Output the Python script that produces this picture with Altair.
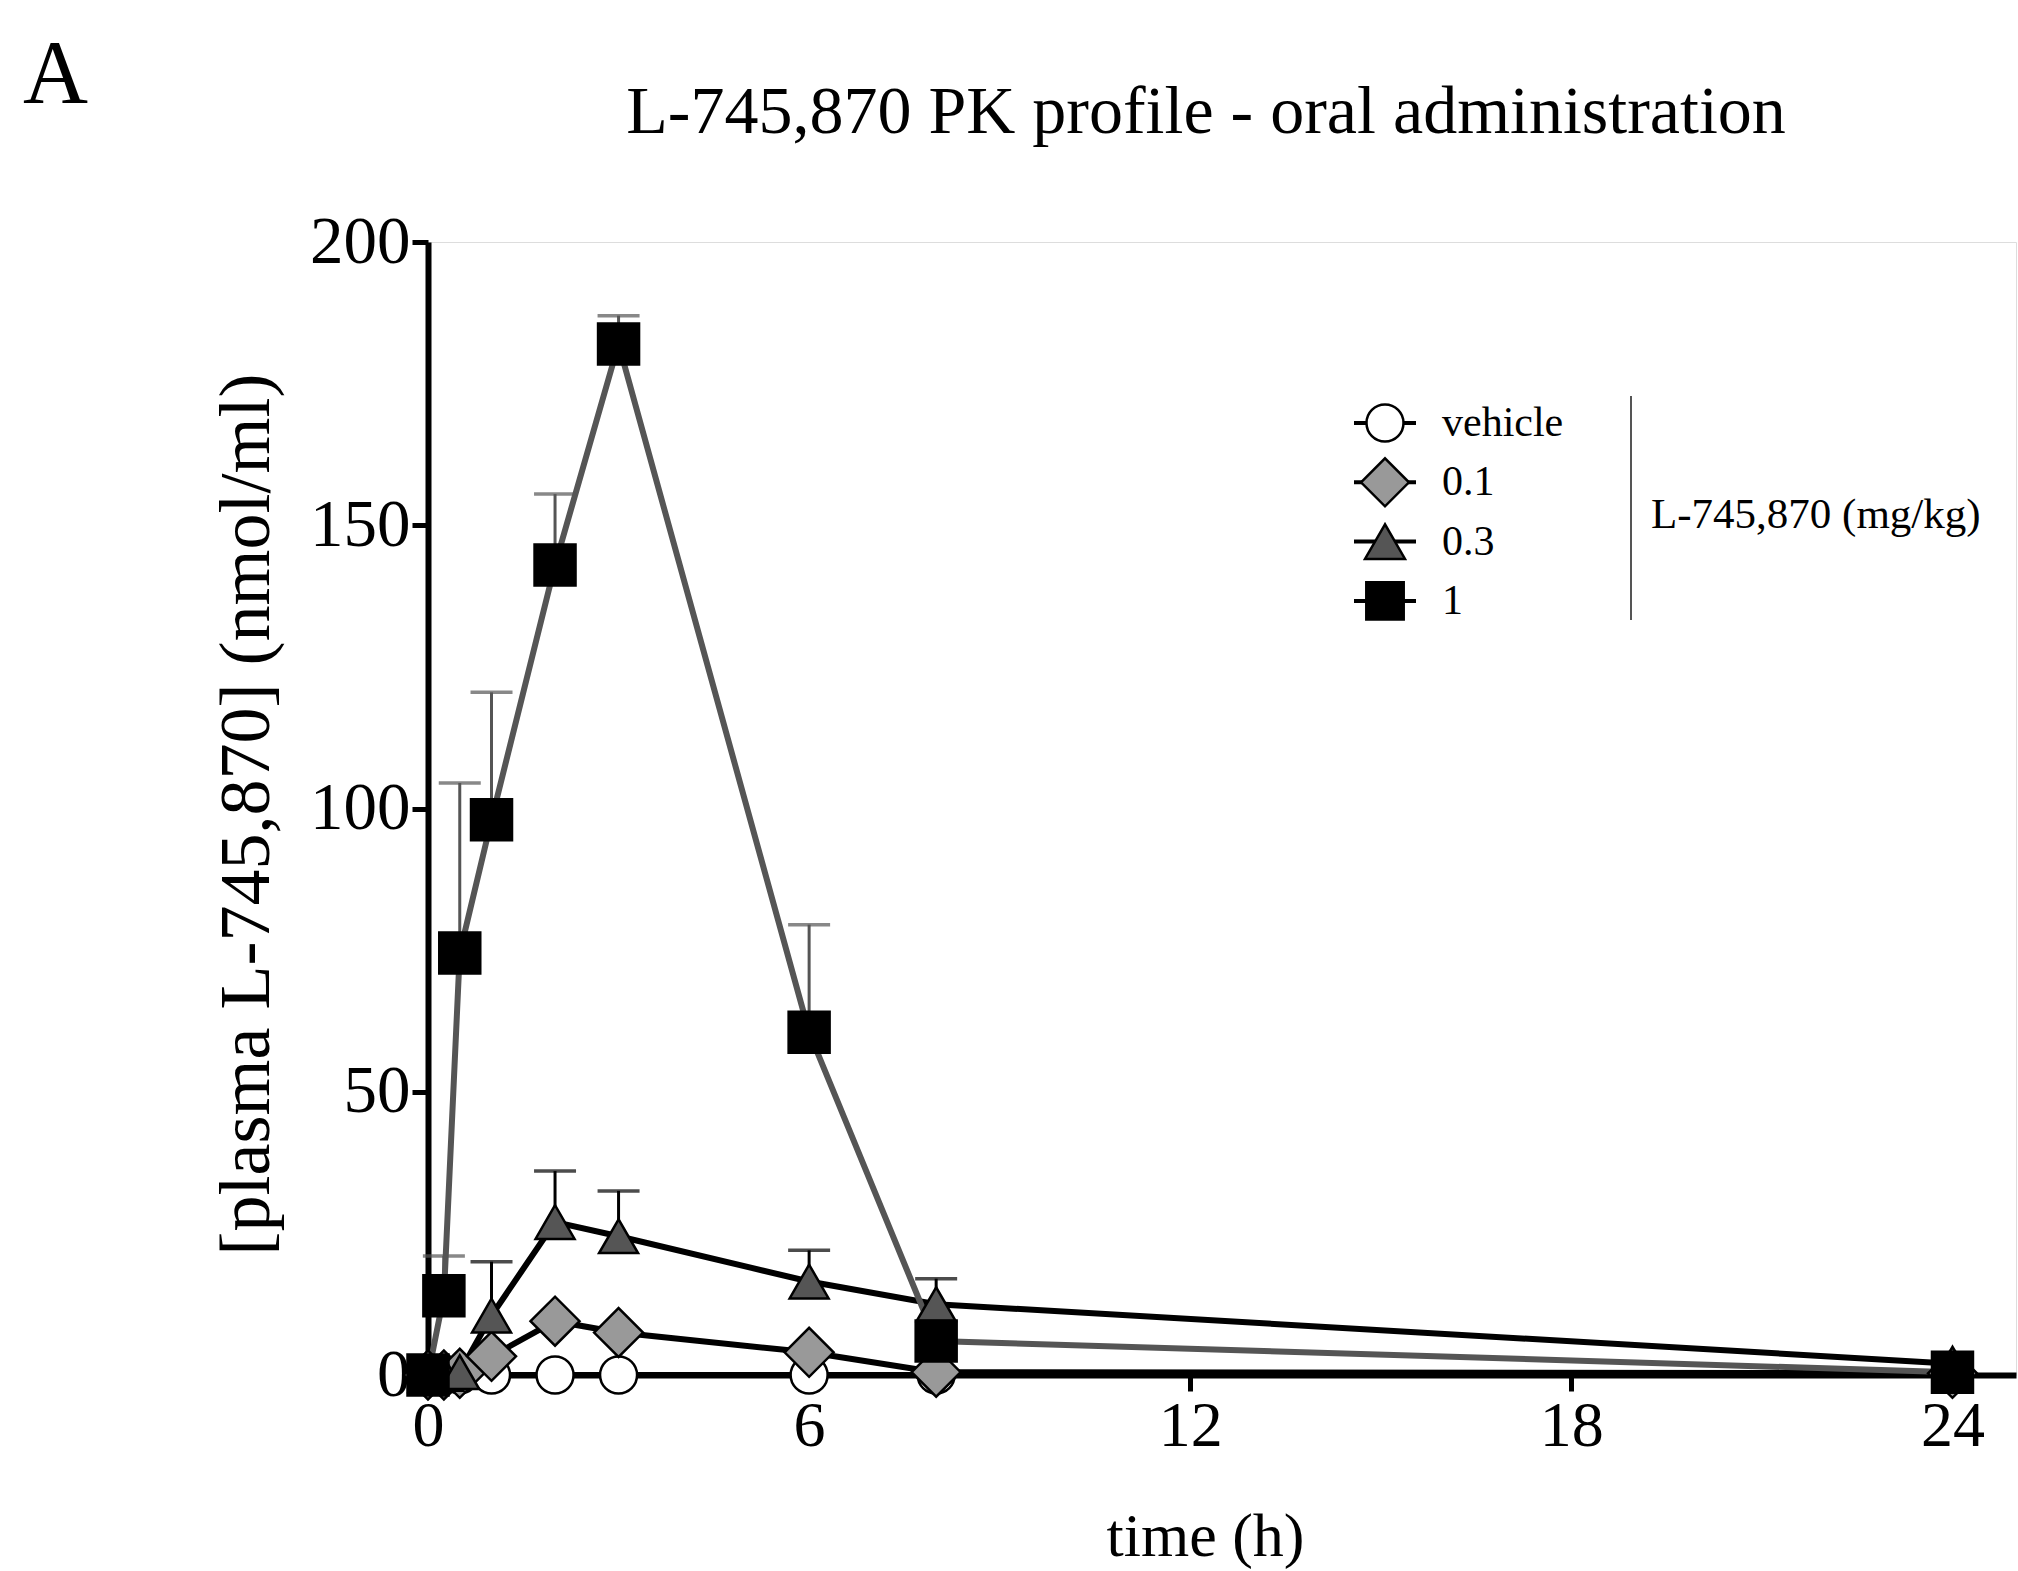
import altair as alt
import pandas as pd

# ---------------- data ----------------
series_names = ["vehicle", "0.1", "0.3", "1"]
times = [0, 0.25, 0.5, 1, 2, 3, 6, 8, 24]

vehicle_mean = [0, 0, 0, 0, 0, 0, 0, 0, 0]
dose01_mean = [0, 0, 0.3, 3.3, 9.5, 7.5, 4.0, 0.5, 0.3]
dose03_mean = [0, 0.2, 0.5, 10.5, 27.0, 24.5, 16.5, 12.5, 2.0]
dose1_mean = [0, 14.0, 74.5, 98.0, 143.0, 182.0, 60.5, 6.0, 0.5]

vehicle_sem = [0, 0, 0, 0, 0, 0, 0, 0, 0]
dose01_sem = [0, 0, 0, 0, 0, 0, 0, 0, 0]
dose03_sem = [0, 0, 0, 9.5, 9.0, 8.0, 5.5, 4.5, 0]
dose1_sem = [0, 7.0, 30.0, 22.5, 12.5, 5.0, 19.0, 0, 0]

x_ticks = [0, 6, 12, 18, 24]
y_ticks = [0, 50, 100, 150, 200]

title_text = "L-745,870 PK profile - oral administration"
panel_text = "A"
legend_group_text = "L-745,870 (mg/kg)"

# ---------------- styles ----------------
FONT = "Liberation Serif"
shapes = ["circle", "diamond", "triangle-up", "square"]
fills = ["#ffffff", "#999999", "#555555", "#000000"]
sizes = [1370, 2400, 1520, 1680]
legend_sizes = [1370, 2300, 1600, 1400]
# line / error-bar colours keyed in sorted order
line_domain = sorted(series_names)
line_colors = ["#555555" if s == "1" else "#000000" for s in line_domain]

means = [vehicle_mean, dose01_mean, dose03_mean, dose1_mean]
sems = [vehicle_sem, dose01_sem, dose03_sem, dose1_sem]
rows = []
for name, m, s in zip(series_names, means, sems):
    for t, mv, sv in zip(times, m, s):
        rows.append({"series": name, "time": t, "mean": mv, "sem": sv, "upper": mv + sv})
df = pd.DataFrame(rows)
err_df = df[df["sem"] > 0].reset_index(drop=True)

W, H = 1588, 1133
PAD_L, PAD_T = 428, 242

x_scale = alt.Scale(domain=[0, 25], nice=False, zero=False)
y_scale = alt.Scale(domain=[0, 200], nice=False)

x_axis = alt.Axis(
    values=x_ticks, format="d", title="time (h)", grid=False,
    labelFont=FONT, labelFontSize=64, labelColor="black", labelPadding=3,
    labelFlush=False, labelOverlap=False,
    tickSize=16, tickWidth=5, tickColor="black",
    domainWidth=6, domainColor="black",
    titleFont=FONT, titleFontSize=62, titleFontWeight="normal", titleColor="black",
    titleX=777, titleY=180, titleAlign="center", titleBaseline="alphabetic",
)
y_axis = alt.Axis(
    values=y_ticks, format="d", title="[plasma L-745,870] (nmol/ml)", grid=False,
    labelFont=FONT, labelFontSize=67, labelColor="black", labelPadding=2,
    labelFlush=False, labelOverlap=False,
    tickSize=16, tickWidth=5, tickColor="black",
    domainWidth=6, domainColor="black",
    titleFont=FONT, titleFontSize=72, titleFontWeight="normal", titleColor="black",
    titleX=-160, titleY=572, titleAngle=270, titleAlign="center", titleBaseline="alphabetic",
)

line_scale = alt.Scale(domain=line_domain, range=line_colors)
X = alt.X("time:Q", scale=x_scale, axis=x_axis)
Y = alt.Y("mean:Q", scale=y_scale, axis=y_axis)

base = alt.Chart(df)

lines = base.mark_line(strokeWidth=6).encode(
    x=X, y=Y,
    stroke=alt.Stroke("series:N", scale=line_scale, legend=None),
    detail="series:N",
    order="time:Q",
)

err_rules = alt.Chart(err_df).mark_rule(strokeWidth=3).encode(
    x=alt.X("time:Q", scale=x_scale),
    y=alt.Y("mean:Q", scale=y_scale),
    y2="upper:Q",
    stroke=alt.Stroke("series:N", scale=line_scale, legend=None),
)
err_caps = alt.Chart(err_df).mark_tick(orient="horizontal", size=42, thickness=3.5).encode(
    x=alt.X("time:Q", scale=x_scale),
    y=alt.Y("upper:Q", scale=y_scale),
    color=alt.Color("series:N", scale=line_scale, legend=None),
)

point_layers = []
for name, shp, fil, sz in zip(series_names, shapes, fills, sizes):
    point_layers.append(
        base.transform_filter(alt.datum.series == name)
        .mark_point(filled=True, opacity=1, stroke="black", strokeWidth=2.5)
        .encode(
            x=alt.X("time:Q", scale=x_scale),
            y=alt.Y("mean:Q", scale=y_scale),
            shape=alt.value(shp), fill=alt.value(fil), size=alt.value(sz),
        )
    )

# ---------------- annotations: title, panel letter, legend ----------------
title_mark = alt.Chart(pd.DataFrame({"t": [title_text]})).mark_text(
    font=FONT, fontSize=68, color="black", align="center", baseline="alphabetic"
).encode(text="t:N", x=alt.value(778), y=alt.value(-109))

panel_mark = alt.Chart(pd.DataFrame({"t": [panel_text]})).mark_text(
    font=FONT, fontSize=90, color="black", align="left", baseline="alphabetic"
).encode(text="t:N", x=alt.value(-405), y=alt.value(-139))

LEG_X, LEG_Y0, LEG_DY = 957, 181, 59.3
legend_layers = []
for i, (name, shp, fil, sz) in enumerate(zip(series_names, shapes, fills, legend_sizes)):
    ly = LEG_Y0 + LEG_DY * i
    one = alt.Chart(pd.DataFrame({"label": [name]}))
    legend_layers.append(
        one.mark_rule(color="black", strokeWidth=4).encode(
            x=alt.value(LEG_X - 31), x2=alt.value(LEG_X + 31), y=alt.value(ly)
        )
    )
    legend_layers.append(
        one.mark_point(filled=True, opacity=1, stroke="black", strokeWidth=2.5).encode(
            x=alt.value(LEG_X), y=alt.value(ly),
            shape=alt.value(shp), fill=alt.value(fil), size=alt.value(sz),
        )
    )
    legend_layers.append(
        one.mark_text(font=FONT, fontSize=42, color="black", align="left", baseline="middle").encode(
            text="label:N", x=alt.value(1014), y=alt.value(ly)
        )
    )

sep_rule = alt.Chart(pd.DataFrame({"a": [0]})).mark_rule(color="#555555", strokeWidth=2).encode(
    x=alt.value(1203), y=alt.value(154), y2=alt.value(378)
)
group_label = alt.Chart(pd.DataFrame({"t": [legend_group_text]})).mark_text(
    font=FONT, fontSize=43, color="black", align="left", baseline="middle"
).encode(text="t:N", x=alt.value(1223), y=alt.value(273))

chart = alt.layer(
    lines, err_rules, err_caps, *point_layers, title_mark, panel_mark, sep_rule, group_label, *legend_layers
).properties(
    width=W, height=H,
    autosize=alt.AutoSizeParams(type="none"),
    padding={"left": PAD_L, "top": PAD_T, "right": 2018 - PAD_L - W, "bottom": 1571 - PAD_T - H},
).configure_view(stroke=None).configure(background="white")

chart.save("out.html", embed_options={"renderer": "svg", "actions": False})
